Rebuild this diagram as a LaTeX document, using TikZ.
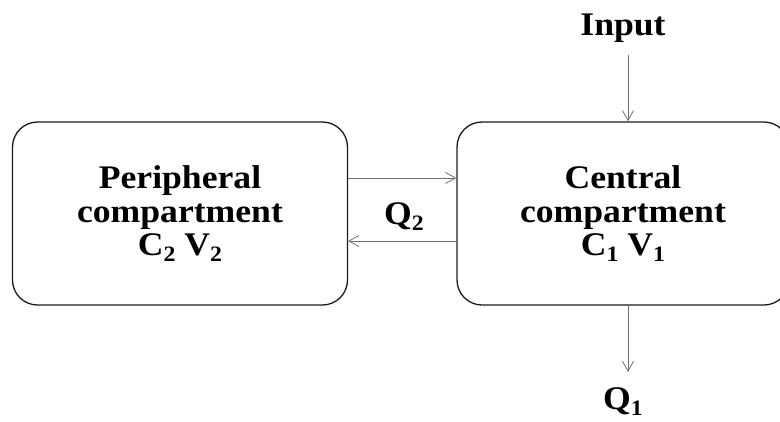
\documentclass[tikz,border=0pt]{standalone}
\usepackage{fontspec}
\setmainfont{Liberation Serif}[FakeStretch=1.08]
\usetikzlibrary{arrows.meta}
\definecolor{boxline}{HTML}{1A1A1A}
\definecolor{flow}{HTML}{707070}
\newcommand\lowsub[1]{\raisebox{-0.45ex}{\fontsize{22}{22}\selectfont #1}}
\begin{document}
\begin{tikzpicture}[x=1pt,y=-1pt,
  compbox/.style={draw=boxline, line width=1.3pt, rounded corners=25pt,
    minimum width=#1, minimum height=183pt, align=center, inner sep=0pt,
    font=\fontsize{33}{34}\selectfont\bfseries},
  flowarrow/.style={draw=flow, line width=0.8pt,
    -{Straight Barb[length=10pt,width=11pt,line width=0.8pt]}},
  lbl/.style={inner sep=0pt, font=\fontsize{33}{34}\selectfont\bfseries}]
  \useasboundingbox (0,0) rectangle (780,421);
  \begin{scope}
    \clip (0,0) rectangle (780,421);
    % the two compartments
    \node[compbox=335pt] (per) at (180,213.5)
      {Peripheral\\compartment\\[-1pt]C\lowsub{2} V\lowsub{2}};
    \node[compbox=332pt] (cen) at (623,213.5)
      {Central\\compartment\\[-1pt]C\lowsub{1} V\lowsub{1}};
  \end{scope}
  % labels
  \node[lbl, anchor=base] (in) at (623,35) {Input};
  \node[lbl, anchor=base] (q1) at (623,409) {Q\lowsub{1}};
  \node[lbl, anchor=base] (q2) at (404,224) {Q\lowsub{2}};
  % exchange between the compartments
  \draw[flowarrow] (per.east |- 0,178) -- (cen.west |- 0,178);
  \draw[flowarrow] (cen.west |- 0,241) -- (per.east |- 0,241);
  % input and elimination
  \coordinate (intop) at (628,55);
  \coordinate (outend) at (628,372);
  \draw[flowarrow] (intop) -- (intop |- cen.north);
  \draw[flowarrow] (outend |- cen.south) -- (outend);
\end{tikzpicture}
\end{document}
